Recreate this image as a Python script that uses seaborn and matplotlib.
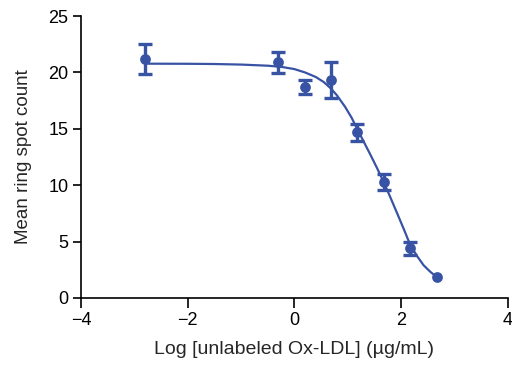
import matplotlib
matplotlib.use("Agg")
import matplotlib.pyplot as plt
import seaborn as sns
import pandas as pd

# Measured points (log concentration, mean count, error)
log_conc = [-2.8, -0.31, 0.19, 0.69, 1.18, 1.68, 2.17, 2.67]
mean_count = [21.2, 20.9, 18.7, 19.3, 14.7, 10.3, 4.4, 1.9]
err = [1.35, 0.95, 0.65, 1.6, 0.75, 0.7, 0.6, 0.0]

# Fitted curve
curve_x = [-2.8, -2.0, -1.5, -1.0, -0.5, -0.25, 0.0, 0.2, 0.4, 0.55, 0.69, 0.8,
           0.95, 1.07, 1.18, 1.3, 1.43, 1.55, 1.68, 1.8, 1.93, 2.05, 2.17, 2.3,
           2.42, 2.55, 2.67]
curve_y = [20.78, 20.77, 20.75, 20.7, 20.6, 20.5, 20.3, 20.0, 19.6, 19.15, 18.55,
           17.95, 16.95, 16.0, 14.95, 13.85, 12.65, 11.5, 10.2, 8.9, 7.45, 6.1,
           4.7, 3.7, 2.9, 2.3, 1.85]

x_ticks = [-4, -2, 0, 2, 4]
y_ticks = [0, 5, 10, 15, 20, 25]

sns.set_theme(style="ticks")
plt.rcParams['font.family'] = ['Liberation Sans', 'DejaVu Sans']

color = "#3953A4"

fig = plt.figure(figsize=(5.12, 3.66), dpi=100)
ax = fig.add_axes([0.158, 0.186, 0.834, 0.770])

df_curve = pd.DataFrame({"x": curve_x, "y": curve_y})
df_pts = pd.DataFrame({"x": log_conc, "y": mean_count})

sns.lineplot(data=df_curve, x="x", y="y", ax=ax, color=color, linewidth=1.6)
eb = [(x, y, e) for x, y, e in zip(log_conc, mean_count, err) if e > 0]
ax.errorbar([p[0] for p in eb], [p[1] for p in eb], yerr=[p[2] for p in eb],
            fmt="none", ecolor=color, elinewidth=2.4, capsize=4.8, capthick=2.4,
            zorder=3)
sns.scatterplot(data=df_pts, x="x", y="y", ax=ax, color=color, s=60,
                edgecolor=color, linewidth=0, zorder=4)

ax.set_xlim(-4, 4)
ax.set_ylim(0, 25)
ax.set_xticks(x_ticks)
ax.set_yticks(y_ticks)
ax.set_xlabel("Log [unlabeled Ox-LDL] (µg/mL)", fontsize=14, labelpad=9)
ax.set_ylabel("Mean ring spot count", fontsize=13.5, labelpad=12)
ax.tick_params(axis="both", labelsize=13, width=1.2, color="black", labelcolor="black")
ax.tick_params(axis="x", length=7, pad=3)
ax.tick_params(axis="y", length=6, pad=3)
for s in ["left", "bottom"]:
    ax.spines[s].set_linewidth(1.2)
    ax.spines[s].set_color("black")
sns.despine(ax=ax)

fig.savefig("out.png", dpi=100)
